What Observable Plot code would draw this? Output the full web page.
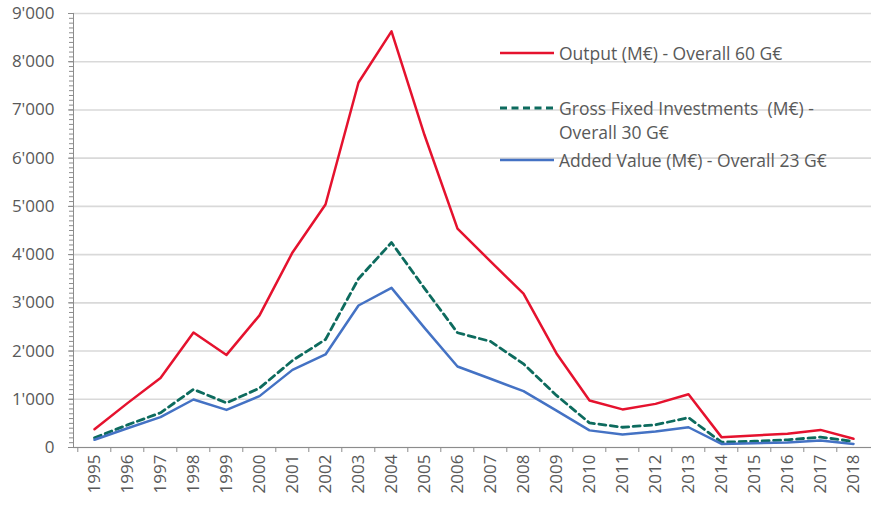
<!DOCTYPE html>
<html>
<head>
<meta charset="utf-8">
<script src="https://cdn.jsdelivr.net/npm/d3@7"></script>
<script src="https://cdn.jsdelivr.net/npm/@observablehq/plot@0.6"></script>
<style>
  body { margin: 0; background: #fff; }
  #wrap { position: relative; width: 871px; height: 505px; font-family: "Open Sans", Lato, sans-serif; }
  #legend { position: absolute; left: 0; top: 0; width: 871px; height: 200px; pointer-events: none; color: #595959; font-size: 17.5px; }
  .item { position: absolute; left: 500px; display: flex; align-items: flex-start; }
  .item svg { flex: none; }
  .item span { margin-left: 5px; line-height: 24px; white-space: pre; }
</style>
</head>
<body>
<div id="wrap">
  <div id="chart"></div>
  <div id="legend"></div>
</div>
<script>
const years = [1995,1996,1997,1998,1999,2000,2001,2002,2003,2004,2005,2006,2007,2008,2009,2010,2011,2012,2013,2014,2015,2016,2017,2018];
const output      = [380, 920, 1440, 2385, 1920, 2740, 4045, 5040, 7570, 8630, 6480, 4540, 3860, 3190, 1950, 975, 790, 905, 1105, 215, 250, 285, 365, 180];
const grossFixed  = [200, 470, 720, 1205, 925, 1230, 1805, 2240, 3500, 4250, 3300, 2380, 2200, 1735, 1080, 510, 420, 470, 620, 110, 130, 160, 215, 125];
const addedValue  = [160, 400, 630, 995, 780, 1065, 1610, 1930, 2945, 3310, 2480, 1680, 1425, 1170, 765, 355, 270, 330, 420, 75, 90, 105, 145, 75];
const yTicks = [0, 1000, 2000, 3000, 4000, 5000, 6000, 7000, 8000, 9000];
const yMinorTicks = d3.range(0, 9001, 100);
const seriesNames = ["Output (M€) - Overall 60 G€", "Gross Fixed Investments  (M€) -\nOverall 30 G€", "Added Value (M€) - Overall 23 G€"];
const seriesColors = ["#E5122E", "#0D6B5E", "#4472C4"];

const rows = (vals) => years.map((y, i) => ({year: y, value: vals[i]}));
const fmt = d => d3.format(",")(d).replace(/,/g, "'");

const chart = Plot.plot({
  width: 871,
  height: 505,
  marginLeft: 73,
  marginRight: 0,
  marginTop: 13,
  marginBottom: 58,
  style: {fontFamily: "'Open Sans', Lato, sans-serif", fontSize: "17px", color: "#595959", background: "#fff"},
  x: {type: "point", domain: years, range: [73, 874], padding: 0.5, label: null},
  y: {domain: [0, 9000], label: null},
  marks: [
    Plot.gridY(yTicks, {stroke: "#d9d9d9", strokeOpacity: 1, strokeWidth: 1.6}),
    Plot.axisY(yMinorTicks, {tickSize: 4, tickFormat: () => "", stroke: "#8c8c8c", label: null}),
    Plot.axisY(yTicks, {tickSize: 5, tickPadding: 14, tickFormat: fmt, stroke: "#8c8c8c", fontSize: 17, label: null}),
    Plot.frame({anchor: "left", stroke: "#8c8c8c"}),
    Plot.ruleY([0], {stroke: "#8c8c8c"}),
    Plot.axisX(years, {tickSize: 5, tickFormat: () => "", dx: -16.7, stroke: "#8c8c8c", label: null}),
    Plot.axisX(years, {tickSize: 0, tickRotate: -90, tickPadding: 7, tickFormat: d => String(d), fontSize: 17, label: null}),
    Plot.line(rows(output), {x: "year", y: "value", stroke: seriesColors[0], strokeWidth: 2.5}),
    Plot.line(rows(grossFixed), {x: "year", y: "value", stroke: seriesColors[1], strokeWidth: 2.8, strokeDasharray: "7,4.5"}),
    Plot.line(rows(addedValue), {x: "year", y: "value", stroke: seriesColors[2], strokeWidth: 2.5})
  ]
});
document.getElementById("chart").appendChild(chart);

// Legend (HTML overlay inside the plot area)
const legend = d3.select("#legend");
const tops = [41, 96, 148];
seriesNames.forEach((name, i) => {
  const item = legend.append("div").attr("class", "item").style("top", tops[i] + "px");
  const sw = item.append("svg").attr("width", 54).attr("height", 24);
  sw.append("line").attr("x1", 0).attr("x2", 54).attr("y1", 12).attr("y2", 12)
    .attr("stroke", seriesColors[i]).attr("stroke-width", i === 1 ? 2.8 : 2.5)
    .attr("stroke-dasharray", i === 1 ? "7,4.5" : null);
  const span = item.append("span");
  name.split("\n").forEach((ln, j) => {
    if (j) span.append("br");
    span.append("tspan").text(ln);
  });
});
</script>
</body>
</html>
